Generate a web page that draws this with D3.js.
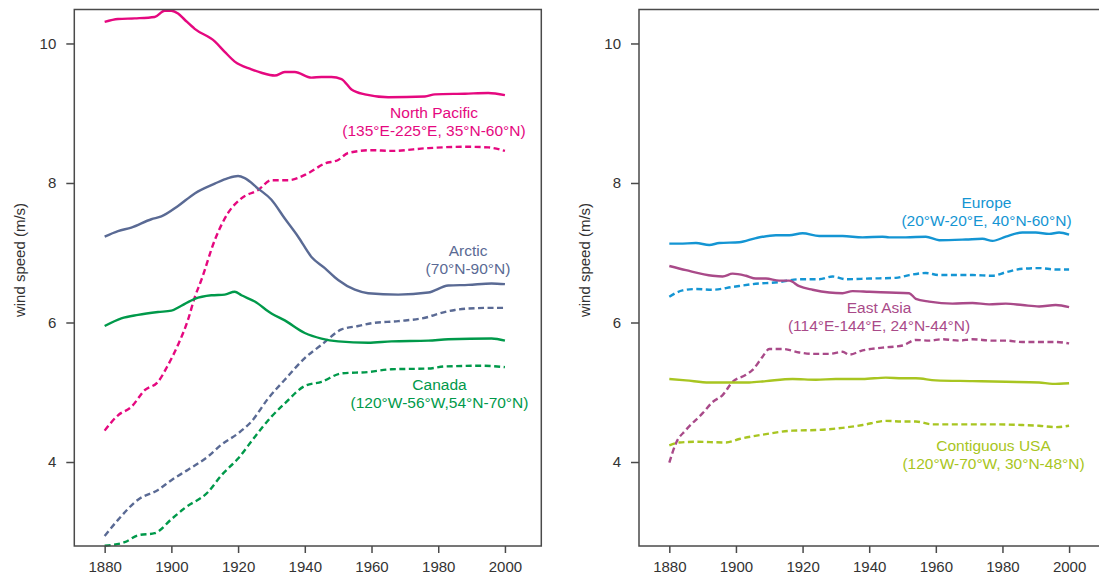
<!DOCTYPE html>
<html>
<head>
<meta charset="utf-8">
<script src="https://cdn.jsdelivr.net/npm/d3@7"></script>
<style>
  body { margin: 0; background: #fff; }
  svg { display: block; font-family: "Liberation Sans", Arial, sans-serif; }
</style>
</head>
<body>
<svg id="chart" width="1099" height="577"></svg>
<script>
// values, [year, wind speed m/s]
const northPacificSolid = [[1880,10.31],[1884,10.35],[1889,10.36],[1895,10.38],[1898,10.47],[1900,10.47],[1902,10.43],[1904,10.34],[1907,10.21],[1913,10.03],[1916,9.88],[1919,9.74],[1924,9.63],[1927,9.58],[1931,9.54],[1934,9.59],[1937,9.59],[1942,9.51],[1945,9.52],[1948,9.52],[1951,9.49],[1954,9.34],[1958,9.27],[1965,9.23],[1976,9.24],[1979,9.27],[1988,9.28],[1995,9.29],[2000,9.26]];
const northPacificDash = [[1880,4.45],[1884,4.67],[1888,4.79],[1892,5.03],[1896,5.15],[1899,5.39],[1902,5.68],[1905,6.04],[1907,6.36],[1909,6.61],[1913,7.18],[1917,7.57],[1921,7.78],[1926,7.9],[1930,8.04],[1935,8.04],[1941,8.14],[1946,8.28],[1950,8.33],[1953,8.43],[1960,8.47],[1966,8.46],[1977,8.5],[1988,8.52],[1995,8.51],[2000,8.46]];
const arcticSolid = [[1880,7.23],[1884,7.31],[1888,7.36],[1894,7.48],[1897,7.52],[1902,7.67],[1907,7.85],[1913,7.99],[1917,8.07],[1920,8.1],[1922,8.07],[1926,7.92],[1930,7.76],[1934,7.49],[1938,7.23],[1942,6.94],[1946,6.78],[1950,6.61],[1955,6.47],[1959,6.42],[1968,6.4],[1977,6.43],[1983,6.53],[1989,6.54],[1996,6.56],[2000,6.55]];
const arcticDash = [[1880,2.94],[1884,3.17],[1890,3.46],[1896,3.6],[1900,3.74],[1905,3.89],[1911,4.08],[1915,4.25],[1920,4.41],[1924,4.58],[1929,4.91],[1934,5.18],[1940,5.49],[1945,5.68],[1951,5.9],[1956,5.95],[1960,5.99],[1968,6.02],[1977,6.08],[1979,6.11],[1985,6.18],[1989,6.2],[1996,6.21],[2000,6.21]];
const canadaSolid = [[1880,5.95],[1885,6.06],[1890,6.11],[1896,6.15],[1900,6.17],[1903,6.24],[1907,6.34],[1912,6.39],[1916,6.4],[1919,6.44],[1921,6.39],[1925,6.3],[1930,6.13],[1934,6.03],[1940,5.85],[1945,5.77],[1950,5.73],[1959,5.71],[1966,5.73],[1977,5.74],[1983,5.76],[1996,5.77],[2000,5.74]];
const canadaDash = [[1880,2.8],[1886,2.85],[1890,2.95],[1895,2.98],[1900,3.18],[1904,3.34],[1911,3.57],[1915,3.81],[1920,4.05],[1925,4.36],[1930,4.65],[1934,4.84],[1940,5.09],[1945,5.15],[1951,5.27],[1959,5.29],[1966,5.33],[1977,5.34],[1982,5.37],[1993,5.38],[2000,5.36]];

const europeSolid = [[1880,7.13],[1883,7.13],[1888,7.14],[1892,7.11],[1895,7.14],[1901,7.15],[1906,7.21],[1912,7.25],[1916,7.25],[1920,7.28],[1925,7.24],[1932,7.24],[1938,7.22],[1944,7.23],[1946,7.22],[1951,7.22],[1957,7.23],[1961,7.18],[1969,7.19],[1974,7.2],[1977,7.17],[1981,7.23],[1986,7.29],[1990,7.29],[1994,7.27],[1997,7.29],[2000,7.26]];
const europeDash = [[1880,6.37],[1884,6.46],[1888,6.48],[1893,6.47],[1899,6.51],[1905,6.55],[1913,6.58],[1919,6.62],[1925,6.62],[1929,6.66],[1933,6.62],[1940,6.63],[1948,6.64],[1952,6.68],[1957,6.71],[1961,6.68],[1971,6.68],[1977,6.67],[1981,6.72],[1986,6.77],[1991,6.78],[1996,6.76],[2000,6.76]];
const eastAsiaSolid = [[1880,6.81],[1885,6.75],[1893,6.67],[1896,6.66],[1899,6.7],[1903,6.67],[1906,6.63],[1909,6.63],[1913,6.6],[1916,6.6],[1919,6.52],[1923,6.47],[1928,6.43],[1932,6.42],[1935,6.45],[1940,6.44],[1946,6.43],[1952,6.42],[1954,6.34],[1958,6.3],[1965,6.27],[1971,6.28],[1976,6.26],[1981,6.27],[1986,6.25],[1991,6.23],[1996,6.25],[2000,6.22]];
const eastAsiaDash = [[1880,3.99],[1882,4.27],[1885,4.46],[1890,4.7],[1893,4.86],[1896,4.96],[1899,5.15],[1903,5.25],[1905,5.32],[1908,5.51],[1910,5.62],[1914,5.62],[1919,5.57],[1923,5.55],[1928,5.55],[1932,5.58],[1934,5.54],[1938,5.6],[1944,5.64],[1950,5.67],[1954,5.75],[1958,5.74],[1962,5.76],[1967,5.74],[1971,5.76],[1977,5.74],[1981,5.74],[1986,5.72],[1991,5.72],[1996,5.72],[2000,5.7]];
const usaSolid = [[1880,5.19],[1885,5.17],[1892,5.14],[1899,5.14],[1904,5.14],[1909,5.16],[1917,5.19],[1924,5.18],[1930,5.19],[1938,5.19],[1945,5.21],[1950,5.2],[1954,5.2],[1960,5.17],[1971,5.16],[1981,5.15],[1991,5.14],[1995,5.12],[2000,5.13]];
const usaDash = [[1880,4.24],[1883,4.28],[1888,4.29],[1897,4.28],[1901,4.33],[1909,4.4],[1917,4.45],[1925,4.46],[1932,4.49],[1938,4.53],[1945,4.59],[1950,4.58],[1954,4.58],[1959,4.54],[1966,4.54],[1976,4.54],[1986,4.53],[1991,4.52],[1996,4.5],[2000,4.52]];

const yearTicks = [1880, 1900, 1920, 1940, 1960, 1980, 2000];
const speedTicks = [4, 6, 8, 10];

const colors = {
  northPacific: "#e5087f",
  arctic: "#5a6a94",
  canada: "#00994a",
  europe: "#1495d3",
  eastAsia: "#a94a89",
  usa: "#a8c521",
};

const leftSeries = [
  { data: northPacificSolid, color: colors.northPacific, dashed: false },
  { data: northPacificDash, color: colors.northPacific, dashed: true },
  { data: arcticSolid, color: colors.arctic, dashed: false },
  { data: arcticDash, color: colors.arctic, dashed: true },
  { data: canadaSolid, color: colors.canada, dashed: false },
  { data: canadaDash, color: colors.canada, dashed: true },
];
const rightSeries = [
  { data: europeSolid, color: colors.europe, dashed: false },
  { data: europeDash, color: colors.europe, dashed: true },
  { data: eastAsiaSolid, color: colors.eastAsia, dashed: false },
  { data: eastAsiaDash, color: colors.eastAsia, dashed: true },
  { data: usaSolid, color: colors.usa, dashed: false },
  { data: usaDash, color: colors.usa, dashed: true },
];

const leftLabels = [
  { lines: ["North Pacific", "(135°E-225°E, 35°N-60°N)"], x: 434, y: 118, color: colors.northPacific },
  { lines: ["Arctic", "(70°N-90°N)"], x: 468, y: 256, color: colors.arctic },
  { lines: ["Canada", "(120°W-56°W,54°N-70°N)"], x: 439.5, y: 390, color: colors.canada },
];
const rightLabels = [
  { lines: ["Europe", "(20°W-20°E, 40°N-60°N)"], x: 986.5, y: 208, color: colors.europe },
  { lines: ["East Asia", "(114°E-144°E, 24°N-44°N)"], x: 879, y: 313, color: colors.eastAsia },
  { lines: ["Contiguous USA", "(120°W-70°W, 30°N-48°N)"], x: 993.5, y: 451, color: colors.usa },
];

const svg = d3.select("#chart");

const plotTop = 9.5, plotBottom = 546;
const yScale = d3.scaleLinear().domain([2.796, 10.487]).range([plotBottom, plotTop]);

function drawPanel(left, right, series, labels) {
  const xScale = d3.scaleLinear().domain([1870.9, 2010.9]).range([left, right]);
  const g = svg.append("g");

  const line = d3.line()
    .x((d) => xScale(d[0]))
    .y((d) => yScale(d[1]))
    .curve(d3.curveMonotoneX);

  g.selectAll("path.series")
    .data(series)
    .join("path")
    .attr("class", "series")
    .attr("d", (d) => line(d.data))
    .attr("fill", "none")
    .attr("stroke", (d) => d.color)
    .attr("stroke-width", 2.4)
    .attr("stroke-dasharray", (d) => (d.dashed ? "6,3.5" : null));

  // frame
  g.append("rect")
    .attr("x", left)
    .attr("y", plotTop)
    .attr("width", right - left)
    .attr("height", plotBottom - plotTop)
    .attr("fill", "none")
    .attr("stroke", "#4a4a4a")
    .attr("stroke-width", 1.5);

  const xAxis = g.append("g")
    .attr("transform", `translate(0,${plotBottom})`)
    .call(d3.axisBottom(xScale).tickValues(yearTicks).tickFormat(d3.format("d")).tickSize(7).tickPadding(8));

  const yAxis = g.append("g")
    .attr("transform", `translate(${left},0)`)
    .call(d3.axisLeft(yScale).tickValues(speedTicks).tickSize(8).tickPadding(10));

  [xAxis, yAxis].forEach((ax) => {
    ax.select(".domain").remove();
    ax.selectAll("line").attr("stroke", "#4a4a4a").attr("stroke-width", 1.5);
    ax.selectAll("text")
      .attr("fill", "#333")
      .style("font-size", "15px")
      .style("font-family", "'Liberation Sans', Arial, sans-serif");
  });

  g.append("text")
    .attr("transform", `translate(${left - 49.5},260) rotate(-90)`)
    .attr("text-anchor", "middle")
    .attr("fill", "#333")
    .style("font-size", "15px")
    .text("wind speed (m/s)");

  labels.forEach((lab) => {
    const t = g.append("text")
      .attr("text-anchor", "middle")
      .attr("fill", lab.color)
      .style("font-size", "15.5px");
    lab.lines.forEach((s, i) => {
      t.append("tspan").attr("x", lab.x).attr("y", lab.y + i * 18).text(s);
    });
  });
}

drawPanel(74.3, 541.3, leftSeries, leftLabels);
drawPanel(639, 1105.4, rightSeries, rightLabels);
</script>
</body>
</html>
